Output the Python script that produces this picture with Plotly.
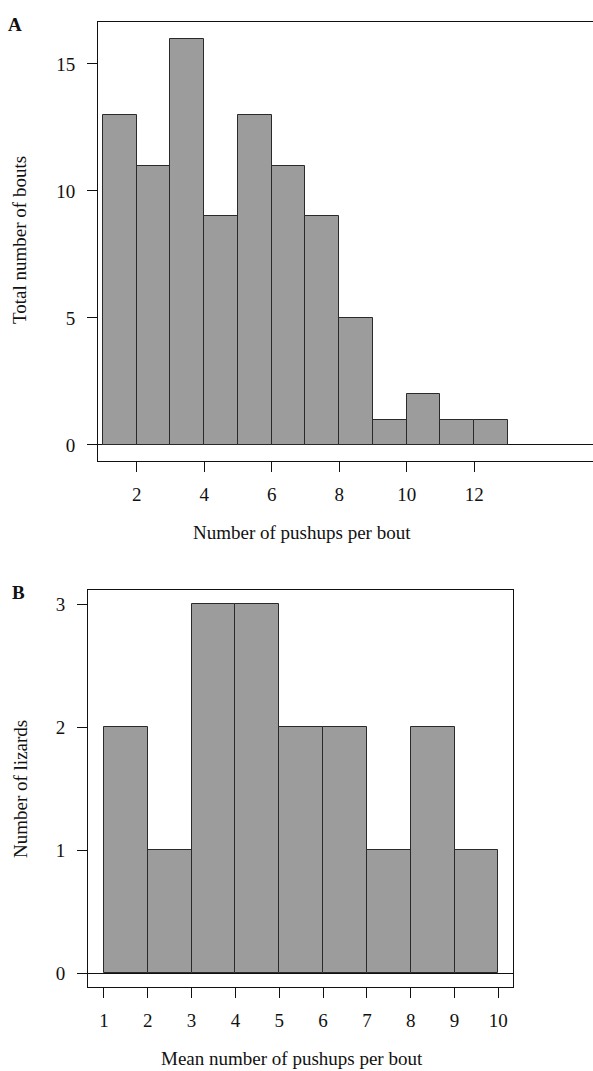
import plotly.graph_objects as go

# Panel A data
a_bin_left = [1, 2, 3, 4, 5, 6, 7, 8, 9, 10, 11, 12]
a_counts = [13, 11, 16, 9, 13, 11, 9, 5, 1, 2, 1, 1]
a_xticks = [2, 4, 6, 8, 10, 12]
a_yticks = [0, 5, 10, 15]

# Panel B data
b_bin_left = [1, 2, 3, 4, 5, 6, 7, 8, 9]
b_counts = [2, 1, 3, 3, 2, 2, 1, 2, 1]
b_xticks = [1, 2, 3, 4, 5, 6, 7, 8, 9, 10]
b_yticks = [0, 1, 2, 3]

W, H = 593, 1071
FONT = "Liberation Serif"
FILL = "#9c9c9c"
EDGE = "#2a2a2a"
AX = "#111111"


def px_x(p):
    return p / W


def px_y(p):
    return 1 - p / H


fig = go.Figure()
fig.add_trace(go.Bar(x=a_bin_left, y=a_counts, offset=0, width=1,
                     marker=dict(color=FILL, line=dict(color=EDGE, width=1)),
                     xaxis="x", yaxis="y", showlegend=False, hoverinfo="skip"))
fig.add_trace(go.Bar(x=b_bin_left, y=b_counts, offset=0, width=1,
                     marker=dict(color=FILL, line=dict(color=EDGE, width=1)),
                     xaxis="x2", yaxis="y2", showlegend=False, hoverinfo="skip"))

common = dict(showline=True, linecolor=AX, linewidth=1, ticks="outside",
              ticklen=10, tickwidth=1, tickcolor=AX, showgrid=False,
              tickfont=dict(family=FONT, size=19, color="#111"),
              fixedrange=True)

fig.update_layout(
    width=W, height=H,
    margin=dict(l=0, r=0, t=0, b=0),
    paper_bgcolor="white", plot_bgcolor="white",
    bargap=0,
    xaxis=dict(domain=[px_x(98), 1.0], range=[0.854, 15.52], tickvals=a_xticks,
               mirror=True, zeroline=False, anchor="y", ticklabelstandoff=6, **common),
    yaxis=dict(domain=[px_y(461), px_y(22)], range=[-0.63, 16.65], tickvals=a_yticks,
               mirror=False, zeroline=True, zerolinecolor=AX, zerolinewidth=1,
               anchor="x", ticklabelstandoff=8, **common),
    xaxis2=dict(domain=[px_x(88), px_x(513)], range=[0.635, 10.335], tickvals=b_xticks,
                mirror=True, zeroline=False, anchor="y2", ticklabelstandoff=6, **common),
    yaxis2=dict(domain=[px_y(987), px_y(590)], range=[-0.111, 3.116], tickvals=b_yticks,
                mirror=True, zeroline=True, zerolinecolor=AX, zerolinewidth=1,
                anchor="x2", ticklabelstandoff=8, **common),
)

tf = dict(family=FONT, size=19, color="#111")
ann = [
    dict(text="<b>A</b>", x=px_x(15), y=px_y(24), xanchor="center", yanchor="middle",
         font=dict(family=FONT, size=19, color="#111")),
    dict(text="<b>B</b>", x=px_x(18), y=px_y(592), xanchor="center", yanchor="middle",
         font=dict(family=FONT, size=19, color="#111")),
    dict(text="Total number of bouts", x=px_x(20), y=px_y(240), textangle=-90,
         xanchor="center", yanchor="middle", font=tf),
    dict(text="Number of pushups per bout", x=px_x(302), y=px_y(532),
         xanchor="center", yanchor="middle", font=tf),
    dict(text="Number of lizards", x=px_x(20), y=px_y(789), textangle=-90,
         xanchor="center", yanchor="middle", font=tf),
    dict(text="Mean number of pushups per bout", x=px_x(292), y=px_y(1058),
         xanchor="center", yanchor="middle", font=tf),
]
for a in ann:
    a.update(xref="paper", yref="paper", showarrow=False)
fig.update_layout(annotations=ann)

fig.write_html("out.html", config={"displayModeBar": False},
               post_script="document.body.style.margin='0';document.body.style.overflow='hidden';")
